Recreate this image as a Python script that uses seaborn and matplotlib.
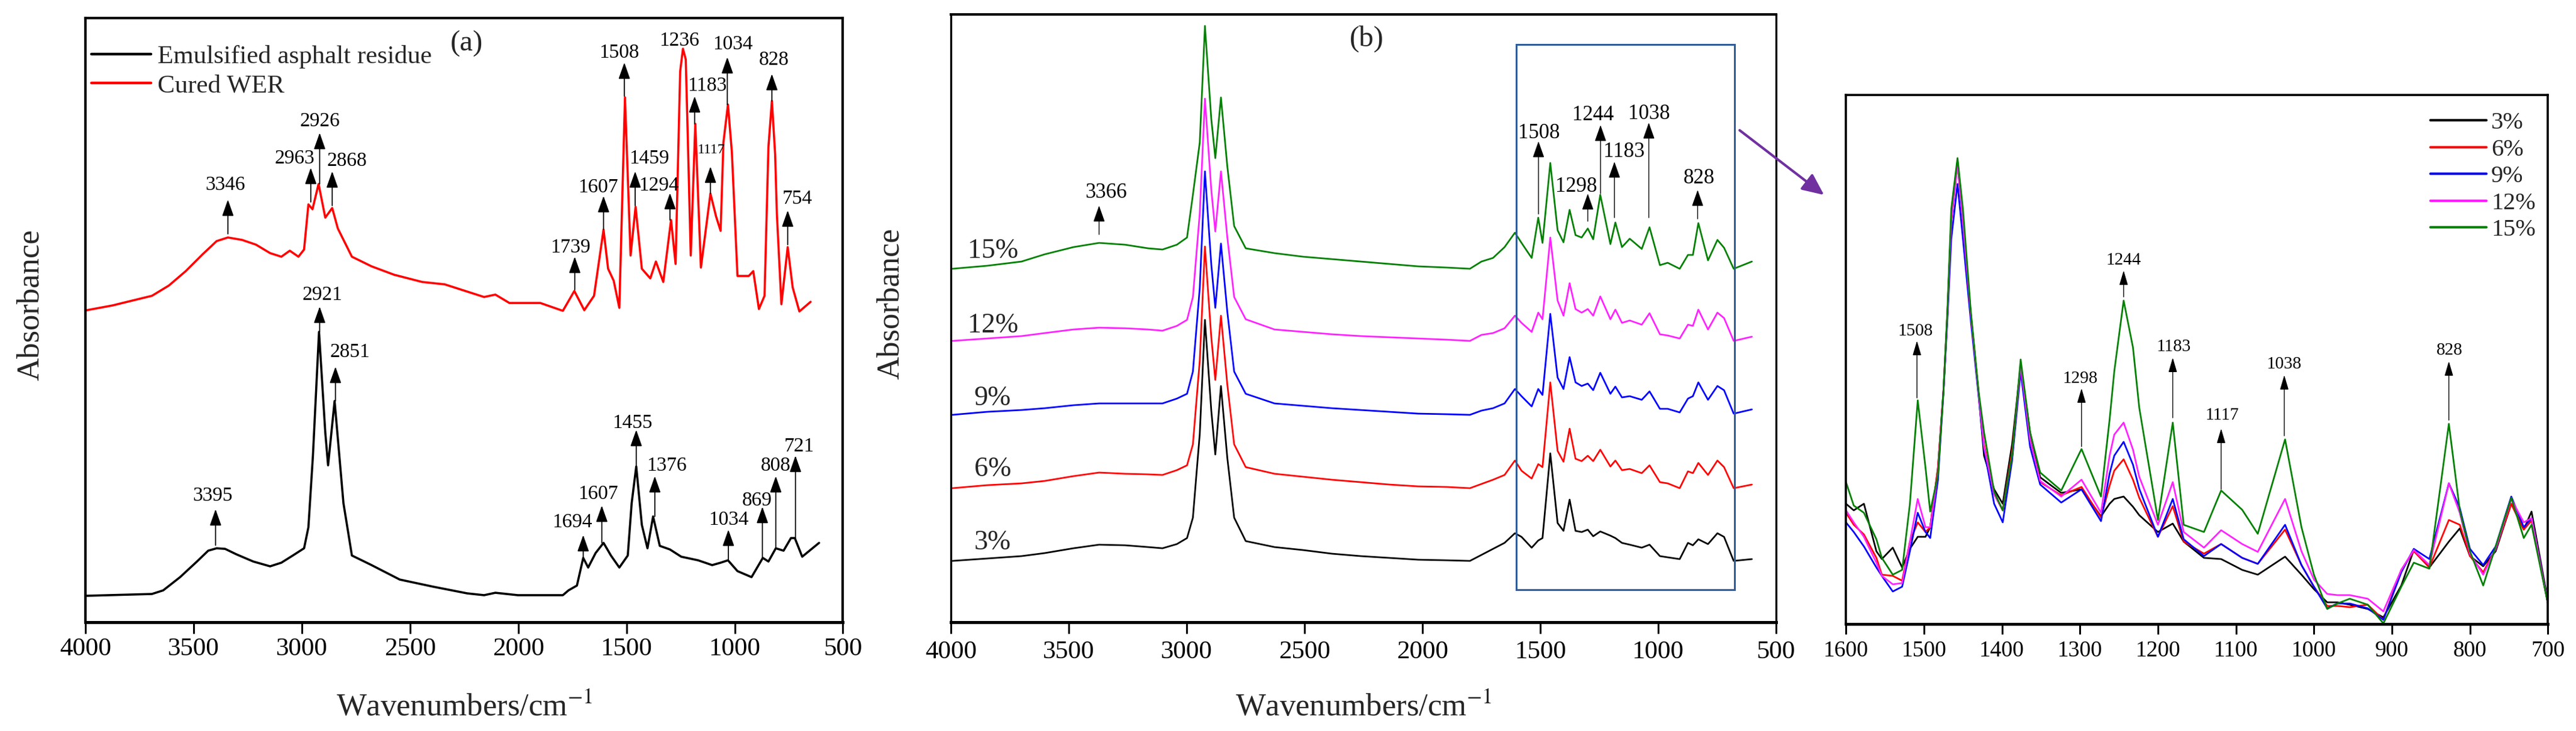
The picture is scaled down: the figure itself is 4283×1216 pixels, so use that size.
import matplotlib
matplotlib.use('Agg')
import matplotlib.pyplot as plt
from matplotlib.patches import Rectangle, FancyArrowPatch
import pandas as pd
import seaborn as sns

# ---------------- panel (a): two spectra (absorbance in arbitrary units) ----------------
wn_residue = [3995, 3693, 3641, 3563, 3485, 3433, 3394, 3355, 3303, 3225, 3147, 3095, 3042,
              2990, 2970, 2949, 2921, 2892, 2879, 2849, 2827, 2808, 2769, 2678, 2548, 2392,
              2236, 2158, 2106, 2002, 1794, 1768, 1729, 1700, 1677, 1643, 1606, 1572, 1533,
              1494, 1476, 1455, 1429, 1403, 1377, 1346, 1299, 1247, 1169, 1104, 1065, 1031,
              987, 922, 870, 844, 810, 774, 740, 722, 688, 610]
abs_residue = [44, 47, 53, 75, 101, 119, 123, 122, 113, 101, 93, 99, 111,
               123, 158, 277, 483, 316, 261, 368, 277, 198, 111, 95, 71, 59,
               48, 45, 49, 45, 45, 53, 61, 107, 91, 115, 132, 111, 91,
               111, 198, 259, 162, 123, 176, 127, 121, 109, 103, 95, 99, 103,
               85, 75, 107, 101, 123, 119, 140, 140, 109, 132]

wn_wer = [3995, 3875, 3693, 3615, 3537, 3459, 3394, 3342, 3277, 3212, 3147, 3095, 3056,
          3016, 2990, 2970, 2951, 2923, 2892, 2860, 2834, 2769, 2678, 2574, 2444, 2340,
          2262, 2158, 2106, 2041, 1898, 1794, 1741, 1695, 1650, 1606, 1585, 1559, 1533,
          1507, 1481, 1458, 1429, 1390, 1364, 1330, 1294, 1273, 1252, 1239, 1226, 1216,
          1203, 1182, 1156, 1112, 1086, 1065, 1052, 1031, 1013, 987, 935, 914, 888, 862,
          844, 828, 813, 805, 784, 755, 732, 701, 649]
abs_wer = [519, 527, 543, 560, 584, 612, 634, 640, 636, 628, 614, 608, 618,
           608, 620, 695, 687, 729, 673, 689, 655, 608, 592, 578, 566, 562,
           553, 541, 545, 531, 531, 518, 551, 519, 543, 653, 588, 568, 523,
           873, 610, 691, 588, 572, 600, 566, 669, 596, 916, 954, 936, 798,
           610, 829, 590, 713, 675, 651, 798, 861, 782, 576, 576, 584, 521, 543,
           790, 867, 778, 679, 529, 624, 557, 517, 533]

# ---------------- panel (b): stacked spectra of five dosages ----------------
wn_b = [3993, 3846, 3700, 3602, 3480, 3371, 3261, 3163, 3102, 3041,
        2998, 2973, 2944, 2922, 2895, 2878, 2854, 2827, 2798, 2749,
        2627, 2505, 2383, 2261, 2139, 2017, 1895, 1798, 1749, 1700, 1651,
        1607, 1579, 1536, 1508, 1490, 1457, 1426, 1401, 1375, 1350,
        1324, 1298, 1275, 1245, 1202, 1181, 1153, 1120, 1069, 1036,
        992, 959, 908, 873, 852, 829, 788, 748, 720, 679, 602]
abs_b_3 = [102, 106, 110, 115, 123, 129, 128, 125, 123, 130,
           140, 174, 313, 503, 352, 279, 393, 273, 174, 135,
           125, 120, 114, 110, 107, 104, 103, 102, 112, 122, 132,
           148, 142, 124, 136, 140, 281, 165, 152, 204, 152,
           150, 154, 143, 151, 144, 140, 132, 129, 124, 129,
           110, 108, 105, 132, 128, 138, 130, 148, 142, 102, 105]
abs_b_6 = [223, 228, 231, 235, 243, 249, 247, 246, 245, 253,
           261, 296, 435, 625, 474, 403, 510, 395, 296, 258,
           247, 242, 237, 233, 229, 226, 225, 223, 230, 237, 245,
           269, 252, 239, 263, 258, 399, 285, 267, 322, 272,
           268, 277, 268, 287, 259, 269, 253, 255, 248, 261,
           233, 231, 223, 251, 248, 265, 245, 269, 258, 223, 229]
abs_b_9 = [345, 350, 353, 356, 361, 364, 364, 364, 364, 372,
           380, 417, 556, 750, 595, 523, 630, 516, 417, 380,
           364, 360, 356, 353, 350, 347, 346, 345, 352, 356, 364,
           388, 376, 359, 388, 378, 513, 407, 388, 441, 399,
           393, 397, 386, 415, 380, 392, 374, 376, 370, 384,
           355, 355, 349, 372, 376, 399, 370, 393, 386, 347, 354]
abs_b_12 = [468, 472, 476, 481, 487, 490, 489, 487, 485, 493,
            503, 541, 680, 871, 719, 650, 750, 640, 541, 504,
            487, 483, 479, 476, 474, 472, 470, 468, 478, 481, 489,
            510, 498, 483, 515, 504, 640, 535, 510, 564, 521,
            515, 521, 510, 542, 504, 520, 498, 502, 495, 514,
            479, 477, 472, 495, 493, 520, 487, 515, 506, 468, 475]
abs_b_15 = [588, 593, 600, 612, 624, 631, 628, 622, 620, 628,
            640, 711, 798, 992, 837, 772, 873, 758, 659, 622,
            614, 608, 604, 600, 596, 592, 590, 588, 600, 606, 624,
            648, 631, 606, 673, 631, 764, 652, 632, 686, 644,
            640, 655, 637, 711, 629, 665, 624, 638, 621, 657,
            594, 598, 588, 611, 611, 664, 602, 636, 623, 588, 600]

# ---------------- panel (c): enlarged 1600-700 cm-1 region ----------------
wn_c = [1600, 1590, 1577, 1561, 1554, 1540, 1528, 1518, 1508, 1498,
        1492, 1482, 1475, 1470, 1465, 1457, 1450, 1440, 1430, 1423,
        1410, 1399, 1387, 1376, 1364, 1351, 1324, 1298, 1273, 1262,
        1256, 1244, 1232, 1224, 1200, 1181, 1167, 1141, 1119, 1092,
        1072, 1037, 1016, 1000, 983, 970, 954, 931, 911, 888,
        872, 852, 827, 813, 800, 783, 767, 747, 731, 721, 700]
abs_c_3 = [200, 189, 200, 121, 108, 127, 94, 125, 145, 145,
           161, 260, 388, 515, 670, 770, 670, 515, 385, 280,
           224, 200, 299, 430, 319, 244, 218, 224, 179, 200,
           208, 212, 195, 181, 153, 167, 137, 110, 108, 90,
           82, 112, 82, 58, 36, 36, 32, 25, 11, 64,
           123, 94, 137, 159, 113, 96, 121, 200, 157, 187, 38]
abs_c_6 = [185, 165, 149, 110, 82, 80, 72, 137, 169, 153,
           161, 260, 388, 515, 670, 765, 670, 515, 385, 299,
           216, 189, 287, 430, 307, 236, 214, 228, 177, 230,
           255, 274, 240, 210, 145, 196, 137, 117, 133, 110,
           100, 157, 98, 62, 30, 30, 28, 32, 7, 90,
           121, 94, 173, 165, 113, 86, 125, 200, 157, 172, 34]
abs_c_9 = [169, 153, 129, 94, 80, 54, 62, 121, 185, 153,
           143, 240, 385, 505, 640, 732, 640, 505, 380, 291,
           200, 169, 272, 420, 295, 232, 202, 224, 171, 250,
           280, 303, 265, 225, 145, 208, 141, 113, 133, 110,
           100, 165, 98, 62, 26, 34, 34, 26, 7, 86,
           125, 108, 234, 193, 125, 98, 129, 212, 161, 176, 34]
abs_c_12 = [189, 169, 145, 102, 80, 66, 68, 137, 208, 161,
            161, 252, 388, 515, 670, 765, 670, 515, 385, 295,
            216, 189, 280, 430, 307, 238, 212, 240, 185, 280,
            315, 335, 290, 245, 165, 236, 153, 127, 156, 133,
            120, 208, 121, 74, 50, 48, 48, 42, 21, 90,
            123, 98, 234, 185, 117, 82, 125, 208, 169, 176, 34]
abs_c_15 = [236, 197, 185, 141, 110, 82, 90, 200, 372, 260,
            187, 248, 388, 521, 690, 775, 690, 521, 388, 319,
            220, 189, 280, 440, 319, 252, 222, 291, 212, 340,
            420, 538, 460, 360, 173, 335, 165, 153, 222, 190,
            150, 307, 161, 82, 25, 34, 42, 32, 1, 62,
            102, 92, 333, 189, 121, 64, 129, 210, 143, 165, 34]

dosages = ['3%', '6%', '9%', '12%', '15%']
dosage_colors = ['#000000', '#ff0000', '#0000ff', '#ff22ff', '#008000']
xticks_full = [4000, 3500, 3000, 2500, 2000, 1500, 1000, 500]
xticks_zoom = [1600, 1500, 1400, 1300, 1200, 1100, 1000, 900, 800, 700]

# peak marks: (label, text x, text y, arrow x, arrow head y, arrow tail y)
peaks_wer = [('3346', 3355, 727, 3342, 703, 646), ('2963', 3035, 771, 2959, 756, 699),
             ('2926', 2918, 833, 2918, 814, 729), ('2868', 2793, 767, 2860, 750, 693),
             ('1739', 1760, 623, 1739, 608, 553), ('1607', 1630, 723, 1606, 709, 653),
             ('1508', 1533, 947, 1510, 931, 875), ('1459', 1395, 771, 1460, 750, 693),
             ('1294', 1351, 726, 1299, 714, 669), ('1236', 1257, 967, None, 0, 0),
             ('1183', 1127, 892, 1185, 875, 829), ('1034', 1008, 961, 1034, 940, 861),
             ('828', 818, 935, 828, 912, 867), ('754', 709, 704, 755, 685, 628)]
peaks_wer_small = [('1117', 1109, 786, 1112, 758, 713)]
peaks_residue = [('2921', 2907, 544, 2918, 525, 483), ('2851', 2777, 449, 2845, 425, 368),
                 ('3395', 3412, 210, 3399, 188, 128), ('1694', 1752, 166, 1700, 145, 107),
                 ('1607', 1630, 213, 1614, 194, 132), ('1455', 1473, 331, 1455, 320, 259),
                 ('1376', 1315, 260, 1369, 243, 176), ('1034', 1029, 170, 1029, 154, 103),
                 ('869', 896, 202, 872, 192, 107), ('808', 810, 260, 810, 243, 123),
                 ('721', 701, 292, 719, 277, 140)]
peaks_b = [('3366', 3341, 715, 3371, 693, 645), ('1508', 1505, 814, 1507, 800, 679),
           ('1298', 1346, 725, 1298, 713, 667), ('1244', 1276, 844, 1244, 827, 713),
           ('1183', 1144, 783, 1185, 766, 673), ('1038', 1037, 846, 1039, 831, 673),
           ('828', 827, 739, 832, 719, 671)]
peaks_c = [('1508', 1511, 487, 1509, 471, 376), ('1298', 1300, 408, 1298, 392, 295),
           ('1244', 1244, 605, 1244, 588, 544), ('1183', 1180, 461, 1181, 443, 343),
           ('1117', 1118, 347, 1119, 325, 224), ('1038', 1038, 432, 1038, 414, 313),
           ('828', 826, 455, 827, 437, 339)]
pct_label_y = [132, 254, 372, 493, 617]

sns.set_theme(style='white')
plt.rcParams['font.family'] = ['Liberation Serif', 'DejaVu Serif']
plt.rcParams['mathtext.fontset'] = 'stix'

fig = plt.figure(figsize=(42.83, 12.16), dpi=100)
ax_a = fig.add_axes([0.0332, 0.1488, 0.2940, 0.8265])
ax_b = fig.add_axes([0.3691, 0.1488, 0.3203, 0.8314])
ax_c = fig.add_axes([0.7166, 0.1464, 0.2725, 0.7237])


def add_peaks(ax, peaks, fs, lw, hl, hw):
    for lab, tx, ty, x, yh, yt in peaks:
        ax.text(tx, ty, lab, fontsize=fs, ha='center', va='center', color='black')
        if x is None:
            continue
        ax.annotate('', xy=(x, yh), xytext=(x, yt),
                    arrowprops=dict(arrowstyle=f'-|>,head_length={hl},head_width={hw}',
                                    color='black', lw=lw, shrinkA=0, shrinkB=0,
                                    mutation_scale=20))


def style_axis(ax, ticks, lim, ylim, fs, spine_w, bottom_w, tick_len, pad):
    ax.set_xlim(*lim)
    ax.set_ylim(*ylim)
    ax.set_xticks(ticks)
    ax.set_xticklabels([str(t) for t in ticks])
    ax.set_yticks([])
    ax.set_ylabel('')
    ax.set_xlabel('')
    for s in ax.spines.values():
        s.set_visible(True)
        s.set_color('black')
        s.set_linewidth(spine_w)
    ax.spines['bottom'].set_linewidth(bottom_w)
    ax.tick_params(axis='x', direction='out', length=tick_len, width=2.2, labelsize=fs,
                   pad=pad, bottom=True, colors='black')
    ax.grid(False)


# ---- (a) ----
df_res = pd.DataFrame({'wn': wn_residue, 'A': abs_residue})
df_wer = pd.DataFrame({'wn': wn_wer, 'A': abs_wer})
sns.lineplot(data=df_res, x='wn', y='A', ax=ax_a, color='black', lw=2.6,
             estimator=None, sort=False, label='Emulsified asphalt residue')
sns.lineplot(data=df_wer, x='wn', y='A', ax=ax_a, color='#ff0000', lw=2.6,
             estimator=None, sort=False, label='Cured WER')
style_axis(ax_a, xticks_full, (4000, 500), (0, 1005), 31, 3.0, 3.6, 14, 4)
add_peaks(ax_a, peaks_wer, 24, 1.3, 0.85, 0.3)
add_peaks(ax_a, peaks_wer_small, 17, 1.3, 0.85, 0.3)
add_peaks(ax_a, peaks_residue, 24, 1.3, 0.85, 0.3)
ax_a.text(2239, 962, '(a)', fontsize=35, ha='center', va='center')
leg_a = ax_a.legend(loc='upper left', bbox_to_anchor=(0.008, 0.955), frameon=False,
                    fontsize=31, handlelength=2.3, handletextpad=0.25, labelspacing=0.2,
                    borderpad=0, borderaxespad=0)
for h in leg_a.get_lines():
    h.set_linewidth(3.2)
ax_a.set_xlabel(r'Wavenumbers/cm$^{-1}$', fontsize=38)
ax_a.xaxis.set_label_coords(0.5, -0.116)
ax_a.set_ylabel('Absorbance', fontsize=38)
ax_a.yaxis.set_label_coords(-0.053, 0.525)

# ---- (b) ----
series_b = [abs_b_3, abs_b_6, abs_b_9, abs_b_12, abs_b_15]
for lab, col, vals in zip(dosages, dosage_colors, series_b):
    sns.lineplot(x=wn_b, y=vals, ax=ax_b, color=col, lw=2.0, estimator=None, sort=False)
style_axis(ax_b, xticks_full, (4000, 500), (0, 1011), 31, 2.4, 3.6, 14, 8)
ax_b.spines['top'].set_linewidth(3.0)
add_peaks(ax_b, peaks_b, 25, 1.0, 0.85, 0.3)
for lab, yy in zip(dosages, pct_label_y):
    ax_b.text(3822, yy, lab, fontsize=33, ha='center', va='center')
ax_b.text(2235, 971, '(b)', fontsize=35, ha='center', va='center')
ax_b.add_patch(Rectangle((676, 54), 1602 - 676, 961 - 54, fill=False,
                         edgecolor='#2e5c99', lw=2.2, zorder=5))
ax_b.set_xlabel(r'Wavenumbers/cm$^{-1}$', fontsize=38)
ax_b.xaxis.set_label_coords(0.5, -0.116)
ax_b.set_ylabel('Absorbance', fontsize=38)
ax_b.yaxis.set_label_coords(-0.055, 0.524)

# ---- (c) ----
series_c = [abs_c_3, abs_c_6, abs_c_9, abs_c_12, abs_c_15]
for lab, col, vals in zip(dosages, dosage_colors, series_c):
    sns.lineplot(x=wn_c, y=vals, ax=ax_c, color=col, lw=2.0, estimator=None, sort=False,
                 label=lab)
style_axis(ax_c, xticks_zoom, (1600, 700), (0, 880), 27, 2.6, 3.4, 12, 8)
add_peaks(ax_c, peaks_c, 21, 1.0, 0.75, 0.22)
leg_c = ax_c.legend(loc='upper left', bbox_to_anchor=(0.833, 0.968), frameon=False,
                    fontsize=29, handlelength=2.3, handletextpad=0.2, labelspacing=0.18,
                    borderpad=0, borderaxespad=0)
for h in leg_c.get_lines():
    h.set_linewidth(3.0)

# purple pointer from the box in (b) to panel (c)
fig.patches.append(FancyArrowPatch((0.6748, 0.8232), (0.7086, 0.7319),
                                   transform=fig.transFigure, color='#7030a0', lw=3.0,
                                   arrowstyle='-|>,head_length=1.1,head_width=0.5',
                                   mutation_scale=20))

fig.savefig('out.png', dpi=100)
